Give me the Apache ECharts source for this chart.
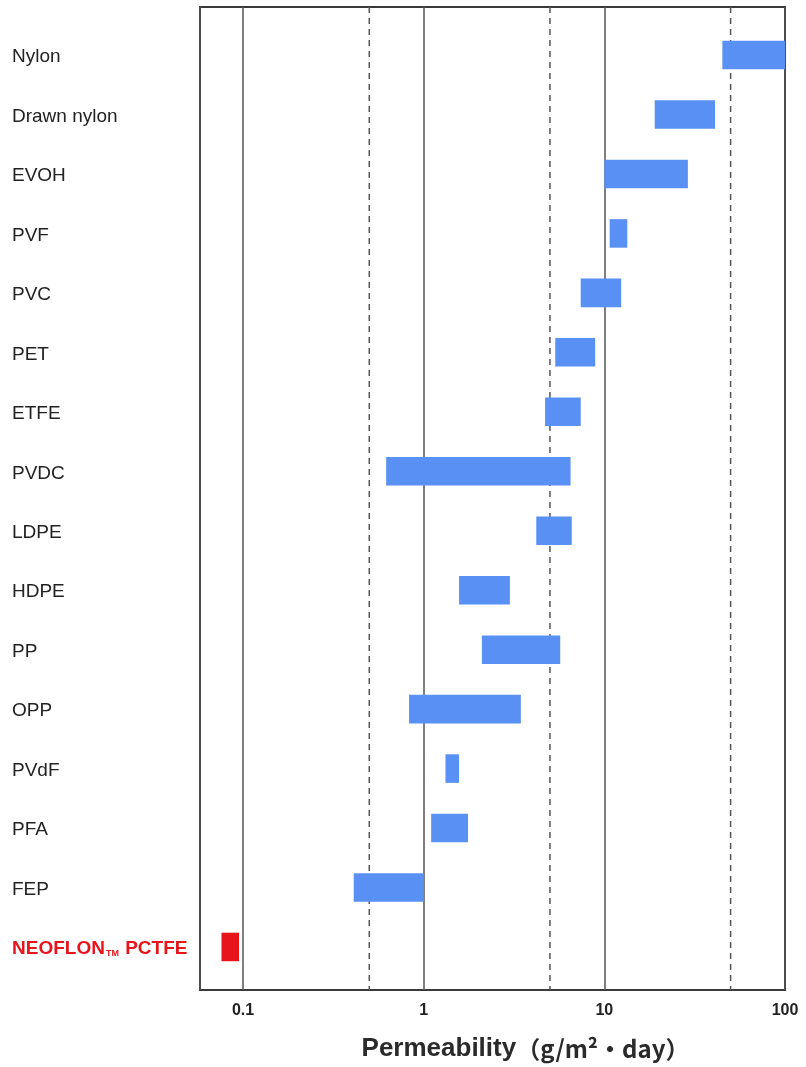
<!DOCTYPE html>
<html>
<head>
<meta charset="utf-8">
<script src="https://cdn.jsdelivr.net/npm/echarts@6/dist/echarts.min.js"></script>
<style>
  html, body { margin: 0; padding: 0; background: #ffffff; }
  #chart { width: 806px; height: 1067px; }
</style>
</head>
<body>
<div id="chart"></div>
<script>
// materials, top to bottom
const categories = ['Nylon', 'Drawn nylon', 'EVOH', 'PVF', 'PVC', 'PET', 'ETFE', 'PVDC',
  'LDPE', 'HDPE', 'PP', 'OPP', 'PVdF', 'PFA', 'FEP', 'NEOFLON™ PCTFE'];
// permeability range, g/m2·day
const lows  = [45, 19, 10, 10.7, 7.4, 5.35, 4.7, 0.62, 4.2, 1.57, 2.1, 0.83, 1.32, 1.1, 0.41, 0.076];
const highs = [100, 41, 29, 13.4, 12.4, 8.9, 7.4, 6.5, 6.6, 3.0, 5.7, 3.45, 1.57, 1.76, 1.0, 0.095];
const majorTicks = [0.1, 1, 10, 100];
const dashedTicks = [0.5, 5, 50];
const highlightName = 'NEOFLON™ PCTFE';

const xMin = 0.0578, xMax = 100;

const barData = categories.map((c, i) => [i, lows[i], highs[i]]);

const chart = echarts.init(document.getElementById('chart'));

const option = {
  backgroundColor: '#ffffff',
  animation: false,
  grid: [
    // frame
    {left: 200, right: 21, top: 7, bottom: 74, show: true, borderColor: '#3a3a3a', borderWidth: 2},
    // bar rows
    {left: 200, right: 21, top: 25.3, bottom: 90.3}
  ],
  xAxis: [{
    gridIndex: 0,
    type: 'log',
    logBase: 10,
    min: xMin,
    max: xMax,
    axisLine: {show: false},
    axisTick: {show: false},
    splitLine: {show: true, lineStyle: {color: '#555', width: 1.5}},
    axisLabel: {
      color: '#222',
      fontSize: 16,
      fontWeight: 'bold',
      fontFamily: 'Liberation Sans',
      margin: 13,
      formatter: v => {
        const l = Math.log10(v);
        if (Math.abs(l - Math.round(l)) > 1e-6) return '';
        const s = String(Number(v.toPrecision(3)));
        return majorTicks.includes(Number(s)) ? s : '';
      }
    },
    name: '{b|Permeability}{n|（g/m²・day）}',
    nameLocation: 'middle',
    nameGap: 46,
    nameTextStyle: {
      padding: [0, 0, 0, 66],
      rich: {
        b: {fontSize: 26, fontWeight: 'bold', color: '#2a2a2a', fontFamily: 'Liberation Sans'},
        n: {fontSize: 24, fontWeight: 'bold', color: '#2a2a2a', fontFamily: 'Noto Sans CJK JP'}
      }
    }
  }, {
    gridIndex: 1,
    type: 'log',
    logBase: 10,
    min: xMin,
    max: xMax,
    show: false
  }],
  yAxis: [{
    gridIndex: 0,
    type: 'value',
    min: 0,
    max: 1,
    show: false
  }, {
    gridIndex: 1,
    type: 'category',
    inverse: true,
    data: categories,
    axisLine: {show: false},
    axisTick: {show: false},
    splitLine: {show: false},
    axisLabel: {
      align: 'left',
      margin: 188,
      color: '#222',
      fontSize: 19,
      fontFamily: 'Liberation Sans',
      padding: [4, 0, 0, 0],
      formatter: v => v === highlightName
        ? '{r|NEOFLON}{tm|TM}{r| PCTFE}'
        : v,
      rich: {
        r: {color: '#e8141c', fontWeight: 'bold', fontSize: 19, fontFamily: 'Liberation Sans'},
        tm: {color: '#e8141c', fontWeight: 'bold', fontSize: 9, fontFamily: 'Liberation Sans', verticalAlign: 'bottom', padding: [6, 1, 0, 1]}
      }
    }
  }],
  series: [{
    // dashed reference lines at 0.5, 5, 50
    type: 'custom',
    xAxisIndex: 0,
    yAxisIndex: 0,
    silent: true,
    data: dashedTicks.map(v => [v, 0]),
    renderItem: (params, api) => {
      const x = api.coord([api.value(0), 0])[0];
      const cs = params.coordSys;
      return {
        type: 'line',
        shape: {x1: x, y1: cs.y, x2: x, y2: cs.y + cs.height},
        style: {stroke: '#555', lineWidth: 1.5, lineDash: [6, 5]}
      };
    }
  }, {
    type: 'custom',
    xAxisIndex: 1,
    yAxisIndex: 1,
    encode: {x: [1, 2], y: 0},
    data: barData,
    renderItem: (params, api) => {
      const idx = api.value(0);
      const p0 = api.coord([api.value(1), idx]);
      const p1 = api.coord([api.value(2), idx]);
      const h = api.size([1, 1])[1] * 0.48;
      return {
        type: 'rect',
        shape: {x: p0[0], y: p0[1] - h / 2, width: p1[0] - p0[0], height: h},
        style: {fill: categories[idx] === highlightName ? '#e8141c' : '#5990f3'}
      };
    }
  }]
};

chart.setOption(option);
</script>
</body>
</html>
